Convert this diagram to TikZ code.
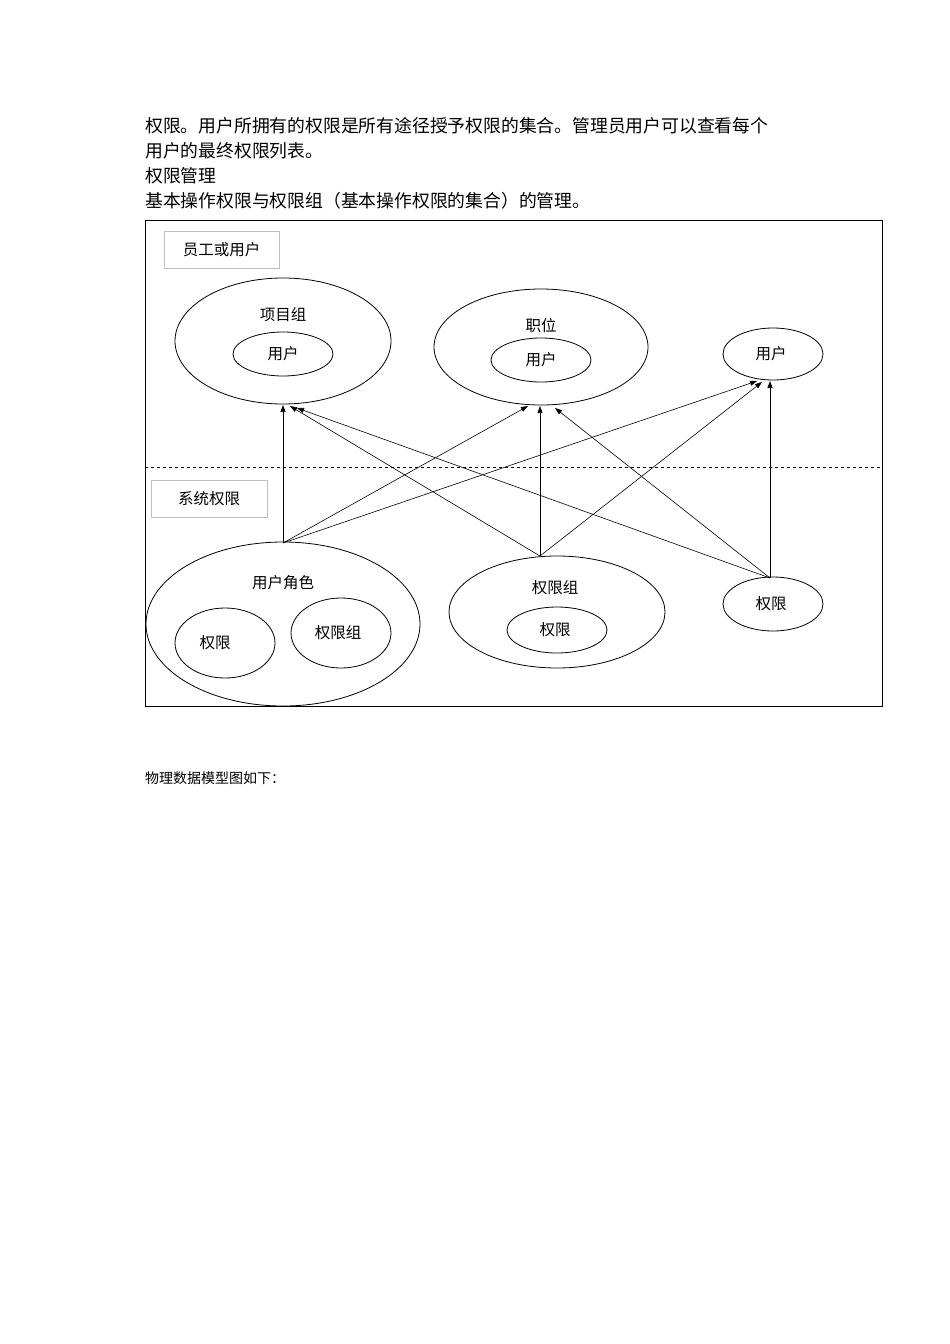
\documentclass[tikz,border=0pt]{standalone}
\usepackage{fontspec}
\newfontfamily\cjk{Noto Sans CJK SC}
\usetikzlibrary{arrows.meta}
\begin{document}
\begin{tikzpicture}[x=1pt,y=-1pt,
 el/.style={draw,line width=0.8pt},
 lab/.style={font=\cjk\fontsize{15.5}{15.5}\selectfont},
 txt/.style={font=\cjk\fontsize{17.8}{17.8}\selectfont,anchor=west,inner sep=0},
 arr/.style={-{Triangle[length=7pt,width=5pt]},line width=0.6pt},
 box/.style={draw=black!25,line width=0.8pt,minimum height=37pt,inner sep=0}]
\useasboundingbox (0,0) rectangle (950,1344);
\fill[white] (0,0) rectangle (950,1344);
\node[txt] (t1) at (145,126) {权限。用户所拥有的权限是所有途径授予权限的集合。管理员用户可以查看每个};
\node[txt] (t2) at (145,151) {用户的最终权限列表。};
\node[txt] (t3) at (145,176) {权限管理};
\node[txt] (t4) at (145,201) {基本操作权限与权限组（基本操作权限的集合）的管理。};
\node[txt,font=\cjk\fontsize{14}{14}\selectfont] (t5) at (145,778) {物理数据模型图如下：};
\draw[line width=0.8pt] (145,220) rectangle (882,706);
\draw[dashed,line width=0.6pt] (145,467) -- (882,467);
\node[box,minimum width=115pt,lab] (b1) at (221.5,250) {员工或用户};
\node[box,minimum width=116pt,lab] (b2) at (209,499) {系统权限};
% top
\draw[el] (283,341) ellipse [x radius=108, y radius=63];
\node[lab] (pg) at (283,315) {项目组};
\draw[el] (283,354) ellipse [x radius=50, y radius=22];
\node[lab] (u1) at (283,354) {用户};
\draw[el] (541,347) ellipse [x radius=107, y radius=58];
\node[lab] (zw) at (541,326) {职位};
\draw[el] (541,360) ellipse [x radius=50, y radius=22];
\node[lab] (u2) at (541,360) {用户};
\draw[el] (773,354) ellipse [x radius=50, y radius=26];
\node[lab] (u3) at (771,354) {用户};
% bottom
\draw[el] (283,624) ellipse [x radius=137, y radius=82];
\node[lab] (js) at (283,583) {用户角色};
\draw[el] (225,643) ellipse [x radius=50, y radius=35];
\node[lab] (q1) at (215,643) {权限};
\draw[el] (341,633) ellipse [x radius=50, y radius=35];
\node[lab] (qg1) at (338,633) {权限组};
\draw[el] (557,612) ellipse [x radius=108, y radius=56];
\node[lab] (qg) at (555,588) {权限组};
\draw[el] (557,630) ellipse [x radius=50, y radius=23];
\node[lab] (q2) at (555,630) {权限};
\draw[el] (773,604) ellipse [x radius=50, y radius=27];
\node[lab] (q3) at (771,604) {权限};
% connectors
\coordinate (sA) at (283,543);
\coordinate (sB) at (540,556);
\coordinate (sC) at (770,578);
\coordinate (e1) at (283,405);
\coordinate (e1b) at (290,406);
\coordinate (e1c) at (297,408);
\coordinate (e2) at (528,406);
\coordinate (e2b) at (540,406);
\coordinate (e2c) at (555,408);
\coordinate (e3) at (757,381);
\coordinate (e3b) at (762,382);
\coordinate (e3c) at (770,381);
\draw[arr] (sA) -- (e1);
\draw[arr] (sA) -- (e2);
\draw[arr] (sA) -- (e3);
\draw[arr] (sB) -- (e1b);
\draw[arr] (sB) -- (e2b);
\draw[arr] (sB) -- (e3b);
\draw[arr] (sC) -- (e1c);
\draw[arr] (sC) -- (e2c);
\draw[arr] (sC) -- (e3c);
\end{tikzpicture}
\end{document}
